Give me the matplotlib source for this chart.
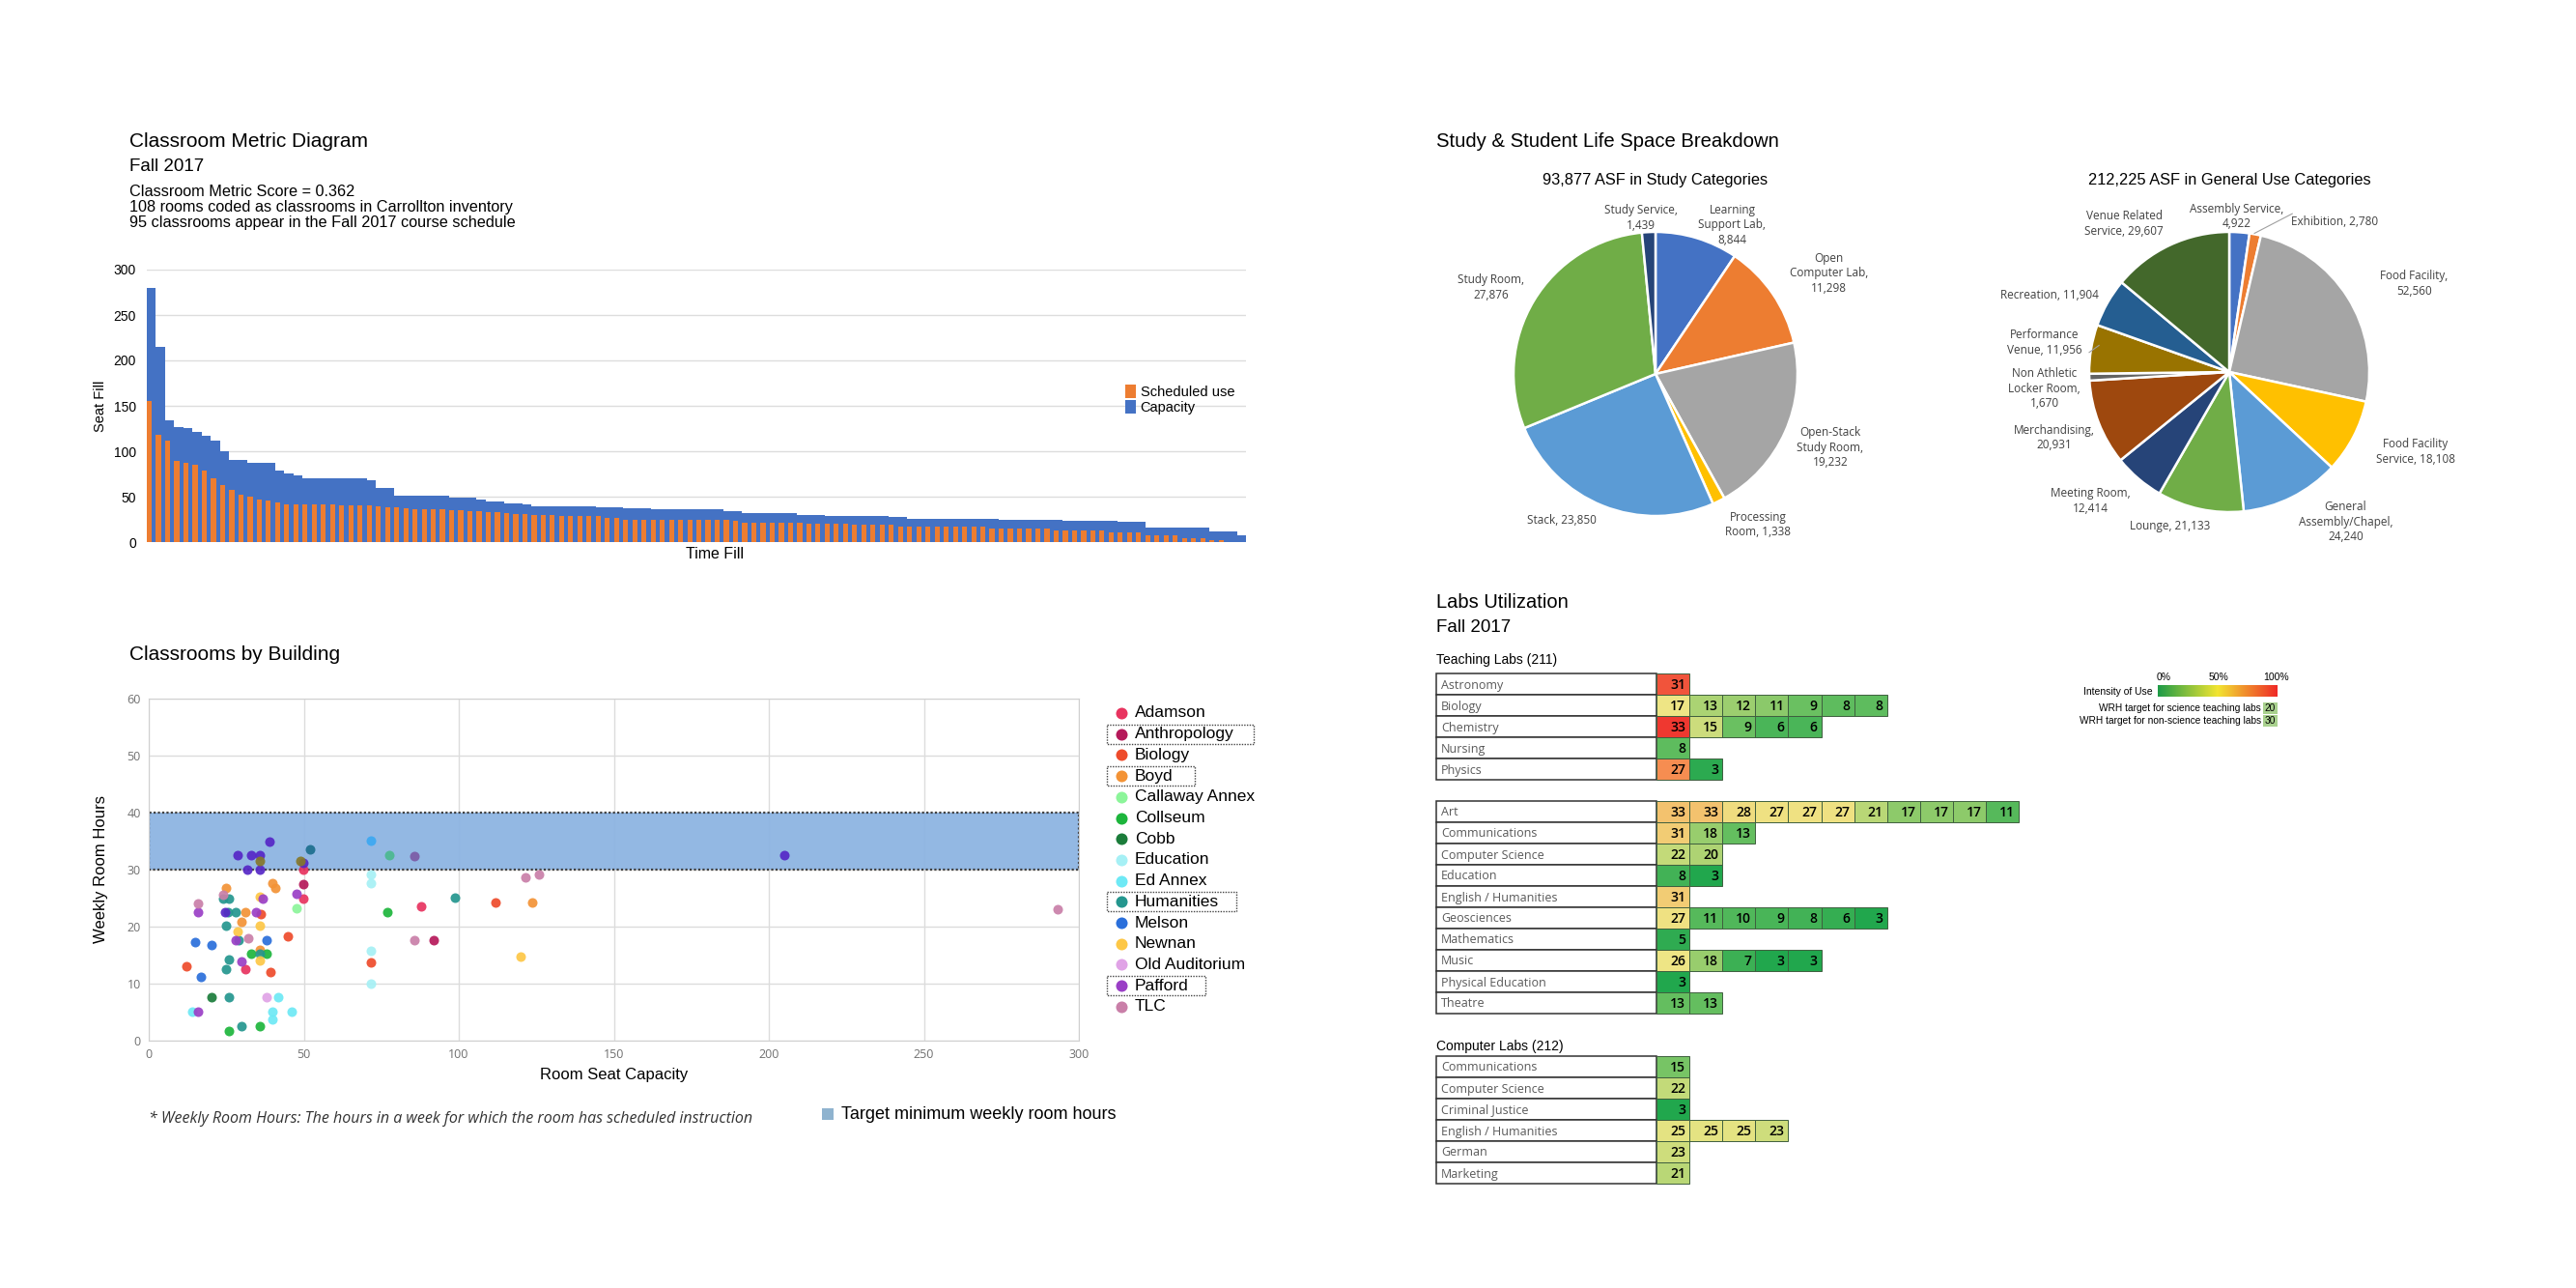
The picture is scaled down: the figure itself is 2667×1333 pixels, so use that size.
import numpy as np
import matplotlib
matplotlib.use("Agg")
import matplotlib.pyplot as plt
from matplotlib.patches import Rectangle
from matplotlib.colors import LinearSegmentedColormap

ARIAL = ["Liberation Sans", "DejaVu Sans"]
NARROW = ["Liberation Sans Narrow", "Liberation Sans", "DejaVu Sans"]
SEGOE = ["Open Sans", "Noto Sans", "DejaVu Sans"]

# ---------------- data: classroom metric diagram ----------------
capacity = [280, 215, 134, 127, 126, 121, 117, 112, 100, 90,
            90, 87, 87, 87, 79, 76, 73, 70, 70, 70,
            70, 70, 70, 70, 68, 60, 60, 51, 51, 51,
            51, 51, 51, 49, 49, 49, 47, 45, 45, 43,
            43, 41, 39, 39, 39, 39, 39, 39, 39, 38,
            38, 38, 37, 37, 37, 36, 36, 36, 36, 36,
            36, 36, 36, 34, 34, 32, 32, 32, 32, 32,
            32, 30, 30, 30, 29, 29, 29, 29, 29, 29,
            29, 28, 28, 26, 26, 26, 26, 26, 26, 26,
            26, 26, 26, 24, 24, 24, 24, 24, 24, 24,
            23, 23, 23, 23, 23, 23, 22, 22, 22, 16,
            16, 16, 16, 16, 16, 16, 12, 12, 12, 7]
scheduled = [155, 118, 112, 89, 87, 85, 79, 70, 63, 57,
             52, 50, 47, 46, 44, 42, 41, 41, 41, 41,
             41, 40, 40, 40, 40, 39, 38, 38, 37, 36,
             36, 36, 36, 35, 35, 34, 34, 33, 33, 32,
             31, 31, 30, 30, 30, 29, 29, 29, 29, 29,
             27, 27, 25, 25, 25, 25, 25, 25, 24, 24,
             24, 24, 24, 24, 23, 21, 21, 21, 21, 21,
             21, 21, 20, 20, 20, 20, 20, 19, 19, 19,
             19, 19, 17, 17, 17, 17, 17, 17, 17, 17,
             17, 17, 15, 15, 15, 15, 15, 15, 15, 13,
             13, 13, 13, 13, 13, 11, 11, 11, 11, 7,
             7, 7, 7, 4, 4, 4, 2, 2, 0, 0]

# ---------------- data: classrooms by building ----------------
buildings = ["Adamson", "Anthropology", "Biology", "Boyd", "Callaway Annex",
             "Collseum", "Cobb", "Education", "Ed Annex", "Humanities",
             "Melson", "Newnan", "Old Auditorium", "Pafford", "TLC"]
boxed = ["Anthropology", "Boyd", "Humanities", "Pafford"]
b_colors = ["#E8335F", "#B5195A", "#EE4B2B", "#F39336", "#8CF59A",
            "#1DB53C", "#1B7C3A", "#A6F0F5", "#6EE9F5", "#24968E",
            "#2A6FDB", "#FDC746", "#E0A3E6", "#9A3FC6", "#C97FA8"]
seats = {
    "Adamson": [49.9, 49.9, 31.0, 87.8],
    "Anthropology": [49.9, 91.8],
    "Biology": [36.0, 45.0, 12.0, 39.1, 111.7, 71.7],
    "Boyd": [40.0, 40.9, 24.9, 31.0, 29.8, 35.9, 123.7],
    "Callaway Annex": [47.8],
    "Collseum": [33.1, 38.0, 35.9, 26.0, 77.0],
    "Cobb": [20.1],
    "Education": [71.7, 71.7, 71.7, 71.7],
    "Ed Annex": [14.0, 41.9, 40.0, 46.0, 40.0],
    "Humanities": [23.9, 26.0, 25.6, 28.1, 24.9, 28.9, 35.9, 26.0, 24.9, 26.0, 29.8, 98.7],
    "Melson": [15.1, 20.1, 37.9, 16.9],
    "Newnan": [35.7, 35.9, 28.8, 35.9, 119.9],
    "Old Auditorium": [37.9],
    "Pafford": [36.9, 47.8, 15.9, 34.6, 29.8, 15.9, 28.1],
    "TLC": [23.9, 15.9, 32.0, 121.6, 125.8, 85.8, 293.0],
}
hours = {
    "Adamson": [30.0, 25.0, 12.6, 23.6],
    "Anthropology": [27.5, 17.6],
    "Biology": [22.2, 18.3, 13.0, 12.0, 24.2, 13.7],
    "Boyd": [27.6, 26.7, 26.7, 22.5, 20.8, 15.9, 24.2],
    "Callaway Annex": [23.3],
    "Collseum": [15.2, 15.3, 2.6, 1.7, 22.5],
    "Cobb": [7.6],
    "Education": [29.1, 27.6, 15.8, 10.0],
    "Ed Annex": [5.1, 7.6, 5.1, 5.1, 3.7],
    "Humanities": [25.0, 25.0, 22.5, 22.5, 20.1, 17.6, 15.2, 14.2, 12.6, 7.6, 2.6, 25.1],
    "Melson": [17.3, 16.7, 17.6, 11.2],
    "Newnan": [25.2, 20.1, 19.2, 14.1, 14.7],
    "Old Auditorium": [7.6],
    "Pafford": [25.0, 25.7, 22.5, 22.5, 13.9, 5.1, 17.6],
    "TLC": [25.6, 24.0, 17.9, 28.7, 29.1, 17.6, 23.1],
}
# rooms whose building is not listed in the legend
other_colors = ["#5627C6", "#85782B", "#1D6E8E", "#3CA8F2", "#4CB890", "#7C5BA6"]
other_seats = [[39.0, 28.8, 33.0, 35.9, 49.9, 31.9, 35.9, 24.7, 205.0],
               [35.9, 48.9], [52.0], [71.7], [77.7], [85.8]]
other_hours = [[35.0, 32.5, 32.5, 32.5, 31.2, 30.0, 30.0, 22.5, 32.5],
               [31.6, 31.6], [33.5], [35.1], [32.5], [32.3]]
target_low, target_high = 30, 40

# ---------------- data: pies ----------------
study_labels = ["Learning\nSupport Lab,\n8,844", "Open\nComputer Lab,\n11,298",
                "Open-Stack\nStudy Room,\n19,232", "Processing\nRoom, 1,338",
                "Stack, 23,850", "Study Room,\n27,876", "Study Service,\n1,439"]
study_vals = [8844, 11298, 19232, 1338, 23850, 27876, 1439]
study_colors = ["#4472C4", "#ED7D31", "#A5A5A5", "#FFC000", "#5B9BD5", "#70AD47", "#264478"]

general_labels = ["Assembly Service,\n4,922", "Exhibition, 2,780", "Food Facility,\n52,560",
                  "Food Facility\nService, 18,108", "General\nAssembly/Chapel,\n24,240",
                  "Lounge, 21,133", "Meeting Room,\n12,414", "Merchandising,\n20,931",
                  "Non Athletic\nLocker Room,\n1,670", "Performance\nVenue, 11,956",
                  "Recreation, 11,904", "Venue Related\nService, 29,607"]
general_vals = [4922, 2780, 52560, 18108, 24240, 21133, 12414, 20931, 1670, 11956, 11904, 29607]
general_colors = ["#4472C4", "#ED7D31", "#A5A5A5", "#FFC000", "#5B9BD5", "#70AD47",
                  "#264478", "#9E480E", "#636363", "#997300", "#255E91", "#43682B"]

# ---------------- data: labs utilization ----------------
sci_labs = ["Astronomy", "Biology", "Chemistry", "Nursing", "Physics"]
sci_vals = [[31], [17, 13, 12, 11, 9, 8, 8], [33, 15, 9, 6, 6], [8], [27, 3]]
nonsci_labs = ["Art", "Communications", "Computer Science", "Education",
               "English / Humanities", "Geosciences", "Mathematics", "Music",
               "Physical Education", "Theatre"]
nonsci_vals = [[33, 33, 28, 27, 27, 27, 21, 17, 17, 17, 11], [31, 18, 13], [22, 20], [8, 3],
               [31], [27, 11, 10, 9, 8, 6, 3], [5], [26, 18, 7, 3, 3], [3], [13, 13]]
comp_labs = ["Communications", "Computer Science", "Criminal Justice",
             "English / Humanities", "German", "Marketing"]
comp_vals = [[15], [22], [3], [25, 25, 25, 23], [23], [21]]

# ---------------- figure ----------------
W, H = 2667, 1333
fig = plt.figure(figsize=(W / 100, H / 100), dpi=100)
fig.patch.set_facecolor("white")


def px_box(x0, y0, x1, y1):
    return [x0 / W, 1 - y1 / H, (x1 - x0) / W, (y1 - y0) / H]


ov = fig.add_axes([0, 0, 1, 1], zorder=10)
ov.axis("off")

# ---- classroom metric diagram ----
ov.text(134, 152, "Classroom Metric Diagram", fontsize=15, family=ARIAL, va="baseline")
ov.text(134, 177, "Fall 2017", fontsize=13.5, family=NARROW, va="baseline")
ov.text(134, 203, "Classroom Metric Score = 0.362", fontsize=11.7, family=NARROW, va="baseline")
ov.text(134, 219, "108 rooms coded as classrooms in Carrollton inventory", fontsize=11.7,
        family=NARROW, va="baseline")
ov.text(134, 235, "95 classrooms appear in the Fall 2017 course schedule", fontsize=11.7,
        family=NARROW, va="baseline")

ax1 = fig.add_axes(px_box(152, 279, 1290, 561))
xs = np.arange(len(capacity))
hb = ax1.bar(xs, capacity, width=1.0, align="edge", color="#4472C4", lw=0, zorder=2)
ho = ax1.bar(xs, scheduled, width=0.55, align="edge", color="#ED7D31", lw=0, zorder=3)
ax1.set_xlim(0, len(capacity))
ax1.set_ylim(0, 300)
ax1.set_yticks(range(0, 301, 50))
ax1.set_xticks([])
ax1.grid(axis="y", color="#DDDDDD", lw=1, zorder=0)
for s in ax1.spines.values():
    s.set_visible(False)
ax1.tick_params(axis="y", length=0, pad=8, labelsize=10)
for t in ax1.get_yticklabels():
    t.set_family(NARROW)
ax1.legend([ho, hb], ["Scheduled use", "Capacity"], loc="upper left",
           bbox_to_anchor=(1158 / W, 1 - 391 / H), bbox_transform=fig.transFigure,
           frameon=False, handlelength=0.75, handleheight=1.1, handletextpad=0.3,
           labelspacing=0.05, borderpad=0, prop=dict(family=ARIAL, size=10.5))
ov.text(104, 420, "Seat Fill", rotation=90, fontsize=10.5, family=ARIAL, ha="center", va="center")
ov.text(740, 573, "Time Fill", fontsize=11.5, family=NARROW, ha="center", va="center")

# ---- classrooms by building ----
ov.text(134, 683, "Classrooms by Building", fontsize=15, family=ARIAL, va="baseline")
ax2 = fig.add_axes(px_box(154, 723, 1117, 1077))
ax2.axhspan(target_low, target_high, facecolor="#8DB4E2", edgecolor="#3A3A3A",
            linestyle=(0, (1, 1)), lw=1.6, zorder=1, alpha=0.95)
for name, col in zip(buildings, b_colors):
    ax2.scatter(seats[name], hours[name], s=52, color=col, alpha=0.92, lw=0, zorder=3)
for sx, hy, col in zip(other_seats, other_hours, other_colors):
    ax2.scatter(sx, hy, s=52, color=col, alpha=0.92, lw=0, zorder=3)
ax2.set_xlim(0, 300)
ax2.set_ylim(0, 60)
ax2.set_xticks(range(0, 301, 50))
ax2.set_yticks(range(0, 61, 10))
ax2.grid(color="#DCDCDC", lw=1, zorder=0)
ax2.set_axisbelow(True)
for s in ax2.spines.values():
    s.set_color("#D0D0D0")
ax2.tick_params(length=0, labelsize=9, labelcolor="#707070", pad=6)
for t in ax2.get_xticklabels() + ax2.get_yticklabels():
    t.set_family(SEGOE)
ov.text(105, 900, "Weekly Room Hours", rotation=90, fontsize=12, family=NARROW,
        ha="center", va="center")
ov.text(636, 1113, "Room Seat Capacity", fontsize=12, family=NARROW, ha="center", va="center")
ov.text(154, 1158, "* Weekly Room Hours: The hours in a week for which the room has scheduled instruction",
        fontsize=11.5, family=SEGOE, style="italic", color="#333333", va="center")
ov.add_patch(Rectangle((851, 1147), 12, 12, facecolor="#8FB3CF", lw=0))
ov.text(871, 1153, "Target minimum weekly room hours", fontsize=13, family=NARROW,
        va="center")

leg_y0, leg_dy = 738, 21.7
for i, (name, col) in enumerate(zip(buildings, b_colors)):
    yy = leg_y0 + i * leg_dy
    ov.scatter([1161], [yy], s=75, color=col, lw=0)
    ov.text(1175, yy, name, fontsize=12.5, family=NARROW, va="center")
    if name in boxed:
        tw = {"Anthropology": 152, "Boyd": 91, "Humanities": 134, "Pafford": 102}[name]
        ov.add_patch(Rectangle((1146, yy - 10), tw, 20, fill=False, edgecolor="#444444",
                               linestyle=(0, (1, 1)), lw=1))

# ---- pies ----
ov.text(1487, 152, "Study & Student Life Space Breakdown", fontsize=14.6, family=ARIAL,
        va="baseline")

study_pos = [(0.54, 1.05), (1.22, 0.71), (1.23, -0.52), (0.72, -1.06),
             (-0.66, -1.03), (-1.16, 0.61), (-0.10, 1.10)]
general_pos = [(0.05, 1.11), (0.75, 1.07), (1.32, 0.63), (1.33, -0.57), (0.83, -1.07),
               (-0.42, -1.10), (-0.99, -0.92), (-1.25, -0.47), (-1.32, -0.12),
               (-1.32, 0.21), (-1.28, 0.55), (-0.75, 1.06)]


def draw_pie(cx, cy, r, vals, cols, labels, pos, title):
    k = 1.9
    ax = fig.add_axes(px_box(cx - k * r, cy - k * r, cx + k * r, cy + k * r))
    ax.pie(vals, colors=cols, startangle=90, counterclock=False, radius=1,
           wedgeprops=dict(edgecolor="white", linewidth=1.8))
    for lab, (dx, dy) in zip(labels, pos):
        ax.text(dx, dy, lab, ha="center", va="center", fontsize=8.5, family=SEGOE,
                color="#404040", linespacing=1.25)
    ax.set_xlim(-k, k)
    ax.set_ylim(-k, k)
    ax.set_aspect("equal")
    ax.axis("off")
    ov.text(cx, 186, title, fontsize=11.8, family=ARIAL, ha="center", va="center")
    return ax


draw_pie(1714, 387, 147, study_vals, study_colors, study_labels, study_pos,
         "93,877 ASF in Study Categories")
axp2 = draw_pie(2308, 385, 145, general_vals, general_colors, general_labels, general_pos,
                "212,225 ASF in General Use Categories")
axp2.plot([0.18, 0.45], [0.99, 1.13], color="#A0A0A0", lw=0.8)
axp2.plot([-1.0, -0.93], [0.14, 0.19], color="#A0A0A0", lw=0.8)

# ---- labs utilization ----
ov.text(1487, 629, "Labs Utilization", fontsize=14.5, family=ARIAL, va="baseline")
ov.text(1487, 654, "Fall 2017", fontsize=13.5, family=NARROW, va="baseline")
ov.text(1487, 687, "Teaching Labs (211)", fontsize=10, family=NARROW, va="baseline")
ov.text(1487, 1087, "Computer Labs (212)", fontsize=10, family=NARROW, va="baseline")

cell_cmap = LinearSegmentedColormap.from_list(
    "use", ["#0FA048", "#63BE5F", "#EEE685", "#F8A35A", "#EE2B2B"])
TX, LAB_W, CELL_W, ROW_H = 1487, 228, 34.1, 22


def draw_group(names, rows, top, vmax):
    for r, (name, row) in enumerate(zip(names, rows)):
        y0 = top + r * ROW_H
        ov.add_patch(Rectangle((TX, y0), LAB_W, ROW_H, facecolor="white",
                               edgecolor="#333333", lw=1.1))
        ov.text(TX + 5, y0 + ROW_H / 2 + 1, name, fontsize=9, family=SEGOE,
                color="#595959", va="center")
        for c, v in enumerate(row):
            x0 = TX + LAB_W + c * CELL_W
            ov.add_patch(Rectangle((x0, y0), CELL_W, ROW_H,
                                   facecolor=cell_cmap(min(v / vmax, 1.0)),
                                   edgecolor="#3F5F3F", lw=0.7))
            ov.text(x0 + CELL_W - 4, y0 + ROW_H / 2 + 1, str(v), fontsize=10,
                    family=SEGOE, weight="semibold", ha="right", va="center")


draw_group(sci_labs, sci_vals, 697, 34)
draw_group(nonsci_labs, nonsci_vals, 829, 52)
draw_group(comp_labs, comp_vals, 1093, 52)

# intensity legend
grad = LinearSegmentedColormap.from_list("leg", ["#1E9B48", "#F2E532", "#EF2A27"])
ov.imshow(np.linspace(0, 1, 256).reshape(1, -1), cmap=grad, aspect="auto",
          extent=(2234, 2358, 721, 709), zorder=5)
for xp, lab in [(2240, "0%"), (2297, "50%"), (2357, "100%")]:
    ov.text(xp, 704, lab, fontsize=7.5, family=ARIAL, ha="center", va="baseline")
ov.text(2229, 716, "Intensity of Use", fontsize=7.5, family=ARIAL, ha="right", va="center")
for yy, lab, val in [(732.5, "WRH target for science teaching labs", "20"),
                     (746, "WRH target for non-science teaching labs", "30")]:
    ov.text(2341, yy, lab, fontsize=7.3, family=ARIAL, ha="right", va="center")
    ov.add_patch(Rectangle((2343, yy - 6), 15, 12, facecolor="#A9D18E", lw=0))
    ov.text(2350.5, yy, val, fontsize=7.3, family=ARIAL, ha="center", va="center")

ov.set_xlim(0, W)
ov.set_ylim(H, 0)

fig.savefig("out.png", dpi=100, facecolor="white")
